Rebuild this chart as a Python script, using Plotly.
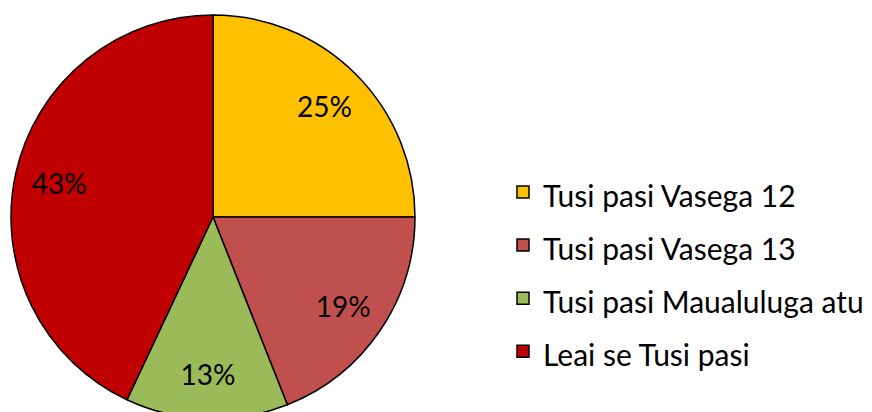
import plotly.graph_objects as go

labels = ["Tusi pasi Vasega 12", "Tusi pasi Vasega 13", "Tusi pasi Maualuluga atu", "Leai se Tusi pasi"]
values = [25, 19, 13, 43]
colors = ["#FFC000", "#C0504D", "#9BBB59", "#C00000"]

W, H = 872, 430
legend_labels = ["<span style='font-size:30px'>%s</span>" % s for s in labels]
dom = dict(x=[11 / W, 415 / W], y=[0, 1])

fig = go.Figure()
# coloured slices
fig.add_trace(go.Pie(
    labels=legend_labels,
    values=values,
    sort=False,
    direction="clockwise",
    rotation=0,
    marker=dict(colors=colors, line=dict(color="black", width=1.5)),
    textinfo="none",
    domain=dom,
    hoverinfo="label+percent",
))
# transparent ring carrying the percentage labels (places them ~0.78 r out)
fig.add_trace(go.Pie(
    labels=labels,
    values=values,
    sort=False,
    direction="clockwise",
    rotation=0,
    hole=0.56,
    marker=dict(colors=["rgba(0,0,0,0)"] * 4, line=dict(width=0)),
    textinfo="percent",
    textposition="inside",
    insidetextorientation="horizontal",
    textfont=dict(family="Lato", size=28, color="black"),
    domain=dom,
    showlegend=False,
    hoverinfo="skip",
))

fig.update_layout(
    width=W, height=H,
    margin=dict(l=0, r=0, t=15, b=11),
    paper_bgcolor="white",
    plot_bgcolor="white",
    font=dict(family="Lato", color="black"),
    uniformtext=dict(minsize=28, mode="show"),
    legend=dict(
        x=503 / W, xanchor="left",
        y=(419 - 272) / 404, yanchor="middle",
        font=dict(family="Lato", size=38.5, color="black"),
        bgcolor="rgba(0,0,0,0)",
    ),
    showlegend=True,
)

fig.write_html("out.html", config={"displayModeBar": False},
               post_script="document.body.style.margin='0';document.body.style.overflow='hidden';")
